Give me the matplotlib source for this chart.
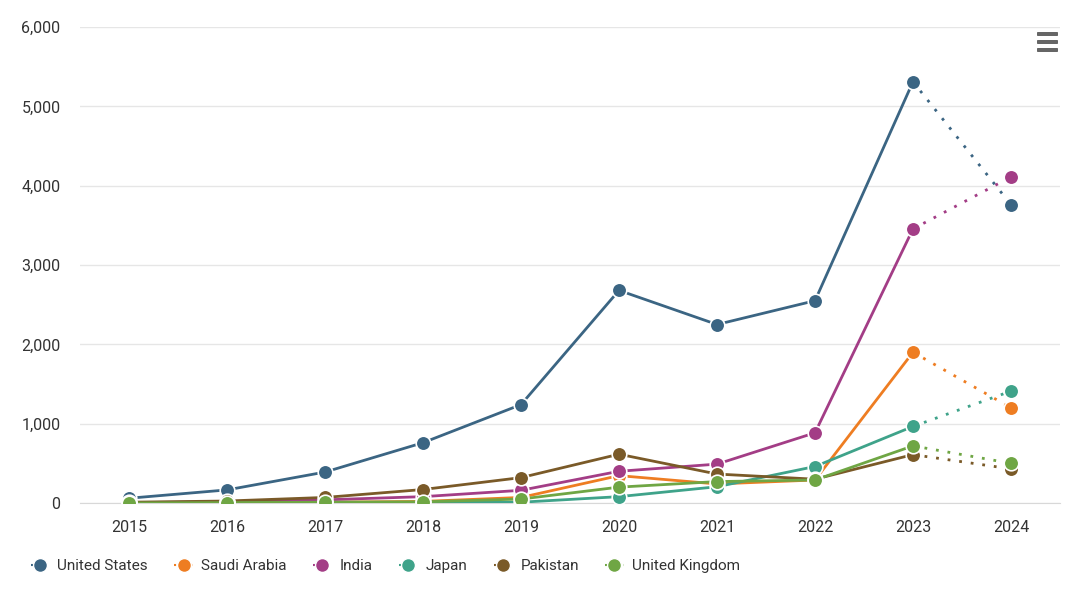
import matplotlib
matplotlib.use("Agg")
import matplotlib.pyplot as plt
from matplotlib.lines import Line2D
from matplotlib.patches import FancyBboxPatch

plt.rcParams['font.family'] = ['Roboto', 'DejaVu Sans']

years = ["2015", "2016", "2017", "2018", "2019", "2020", "2021", "2022", "2023", "2024"]
united_states = [60, 165, 390, 760, 1240, 2680, 2250, 2550, 5310, 3760]
saudi_arabia = [0, 5, 10, 20, 70, 345, 240, 290, 1900, 1200]
india = [5, 15, 40, 80, 160, 400, 490, 885, 3455, 4110]
japan = [0, 3, 5, 5, 10, 80, 205, 460, 965, 1410]
pakistan = [10, 25, 70, 170, 320, 615, 365, 300, 610, 430]
united_kingdom = [0, 5, 10, 15, 50, 200, 270, 290, 720, 500]

series = [
    ("United States", united_states, "#3b6583"),
    ("Saudi Arabia", saudi_arabia, "#ee7d22"),
    ("India", india, "#a33d86"),
    ("Japan", japan, "#3fa38a"),
    ("Pakistan", pakistan, "#7a5a28"),
    ("United Kingdom", united_kingdom, "#6fa644"),
]

fig = plt.figure(figsize=(10.8, 5.97), dpi=100)
ax = fig.add_axes([80/1080, 1-503/597, 980/1080, 476/597])

x = list(range(len(years)))
ms = 10.5
for name, vals, col in series:
    ax.plot(x[:-1], vals[:-1], color=col, lw=2, zorder=3, solid_capstyle='round')
    ax.plot(x[-2:], vals[-2:], color=col, lw=2, ls=(0, (1, 3.2)), zorder=3)
    ax.plot(x, vals, ls='none', marker='o', ms=ms, mfc=col, mec='white', mew=1.2, zorder=4)

ax.set_xlim(-0.5, len(years) - 0.5)
ax.set_ylim(0, 6000)
ax.set_yticks([0, 1000, 2000, 3000, 4000, 5000, 6000])
ax.set_yticklabels([f"{v:,}" for v in [0, 1000, 2000, 3000, 4000, 5000, 6000]])
ax.set_xticks(x)
ax.set_xticklabels(years)
ax.grid(axis='y', color='#e6e6e6', lw=1)
ax.set_axisbelow(True)
for s in ['top', 'right', 'left']:
    ax.spines[s].set_visible(False)
ax.spines['bottom'].set_color('#d8d8d8')
ax.tick_params(axis='both', length=0, labelsize=11.5, colors='#333333')
ax.tick_params(axis='y', pad=14)
ax.tick_params(axis='x', pad=12)

handles = [Line2D([0], [0], color=col, lw=1.5, ls=(0, (1, 2)), marker='o', ms=10, mfc=col, mec='white', mew=1)
           for _, _, col in series]
labels = [n for n, _, _ in series]
leg = fig.legend(handles, labels, loc='center left', bbox_to_anchor=(17/1080, 1-566/597), ncol=6,
                 frameon=False, fontsize=11, handlelength=1.2, handletextpad=0.55, columnspacing=1.72,
                 labelcolor='#333333')

# menu icon
for yy in [34, 42, 50]:
    fig.patches.append(FancyBboxPatch((1037/1080, 1-(yy+2)/597), 21/1080, 4/597,
                                      boxstyle='round,pad=0,rounding_size=0.001',
                                      transform=fig.transFigure, color='#666666', lw=0))

fig.savefig("out.png", dpi=100)
